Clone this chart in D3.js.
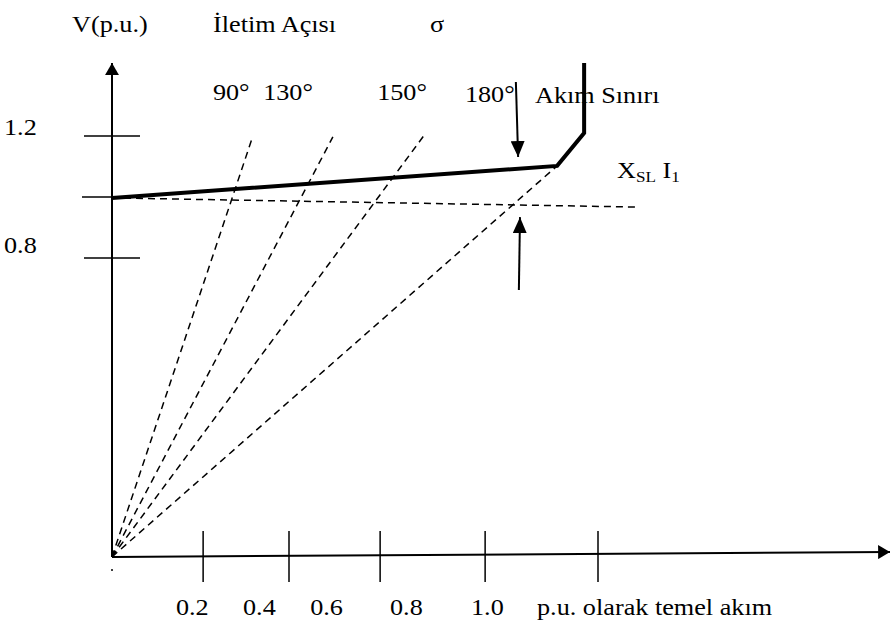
<!DOCTYPE html>
<html>
<head>
<meta charset="utf-8">
<script src="https://cdn.jsdelivr.net/npm/d3@7"></script>
<style>
    body { margin: 0; background: #fff; }
    text { font-family: "Liberation Serif", "Times New Roman", serif; fill: #000; }
</style>
</head>
<body>
<div id="chart"></div>
<script>
// values (current and voltage in p.u.)
var originV = -0.18;
var axisEndI = 2.075;
var axisEndV = -0.164;
var axisTopV = 1.439;

var xTickValues = [0.243, 0.472, 0.715, 0.995, 1.296];
var xTickLabels = ["0.2", "0.4", "0.6", "0.8", "1.0"];
var xLabelAt = [0.213, 0.392, 0.571, 0.784, 1.0];

var yTickValues = [1.2, 1.0, 0.8];
var yTickLabels = ["1.2", "", "0.8"];

// transmission angle lines (from origin)
var angleLabels = ["90°", "130°", "150°", "180°"];
var angleEndI = [0.373, 0.589, 0.837, 1.187];
var angleEndV = [1.190, 1.197, 1.210, 1.102];
var angleLabelI = [0.269, 0.403, 0.707, 0.941];

// voltage with current limit (thick line)
var limitI = [0, 1.187, 1.259, 1.259];
var limitV = [0.997, 1.102, 1.21, 1.439];

// no-load reference (dashed)
var refI = [0, 1.4];
var refV = [0.997, 0.967];

// X_SL I_1 arrows
var dropArrowI = [1.077, 1.083];
var dropArrowV = [1.377, 1.131];
var riseArrowI = [1.085, 1.088];
var riseArrowV = [0.695, 0.934];

function init() {
    var w = 890;
    var h = 626;

    var svg = d3.select("#chart")
        .append("svg")
        .attr("width", w)
        .attr("height", h);

    var xScale = d3.scaleLinear().domain([0, 1]).range([112, 487]);
    var yScale = d3.scaleLinear().domain([0.8, 1.2]).range([258, 136]);

    var defs = svg.append("defs");
    defs.append("marker")
        .attr("id", "head")
        .attr("markerUnits", "userSpaceOnUse")
        .attr("viewBox", "0 0 12 14")
        .attr("refX", 12).attr("refY", 7)
        .attr("markerWidth", 12).attr("markerHeight", 14)
        .attr("orient", "auto")
        .append("path").attr("d", "M0,0 L12,7 L0,14 Z").attr("fill", "#000");
    defs.append("marker")
        .attr("id", "headLong")
        .attr("markerUnits", "userSpaceOnUse")
        .attr("viewBox", "0 0 16 14")
        .attr("refX", 16).attr("refY", 7)
        .attr("markerWidth", 16).attr("markerHeight", 14)
        .attr("orient", "auto")
        .append("path").attr("d", "M0,0 L16,7 L0,14 Z").attr("fill", "#000");

    function label(x, y, str, size) {
        return svg.append("text")
            .attr("transform", "translate(" + x + "," + y + ") scale(1.14,1)")
            .attr("font-size", size || 23)
            .text(str);
    }

    // titles
    label(72, 32, "V(p.u.)");
    label(213, 32, "İletim Açısı");
    label(430, 32, "σ");

    // angle labels
    angleLabels.forEach(function(d, i) {
        label(xScale(angleLabelI[i]), i == 3 ? 102 : 100, d);
    });
    label(535, 103, "Akım Sınırı");

    // X_SL I_1
    var xsl = svg.append("text")
        .attr("transform", "translate(617,178) scale(1.14,1)")
        .attr("font-size", 23);
    xsl.append("tspan").text("X");
    xsl.append("tspan").attr("font-size", 15).attr("dy", 4).text("SL");
    xsl.append("tspan").attr("dy", -4).text(" I");
    xsl.append("tspan").attr("font-size", 15).attr("dy", 4).text("1");

    // y axis
    svg.append("line")
        .attr("x1", xScale(0)).attr("y1", yScale(originV))
        .attr("x2", xScale(0)).attr("y2", yScale(axisTopV))
        .attr("stroke", "#000").attr("stroke-width", 2)
        .attr("marker-end", "url(#head)");

    svg.selectAll(".ytick")
        .data(yTickValues)
        .enter().append("line")
        .attr("class", "ytick")
        .attr("x1", function(d, i) { return xScale(0) - (i == 1 ? 30 : 28); })
        .attr("x2", function(d, i) { return i == 1 ? xScale(0) : xScale(0) + 28; })
        .attr("y1", function(d) { return yScale(d); })
        .attr("y2", function(d) { return yScale(d); })
        .attr("stroke", "#000").attr("stroke-width", 1.5);

    yTickLabels.forEach(function(d, i) {
        if (d) label(4, yScale(yTickValues[i]) - 1 + (i == 2 ? -4 : 0), d);
    });

    // x axis
    svg.append("line")
        .attr("x1", xScale(0)).attr("y1", yScale(originV))
        .attr("x2", xScale(axisEndI)).attr("y2", yScale(axisEndV))
        .attr("stroke", "#000").attr("stroke-width", 2)
        .attr("marker-end", "url(#head)");

    svg.selectAll(".xtick")
        .data(xTickValues)
        .enter().append("line")
        .attr("class", "xtick")
        .attr("x1", function(d) { return xScale(d); })
        .attr("x2", function(d) { return xScale(d); })
        .attr("y1", 531)
        .attr("y2", 582)
        .attr("stroke", "#000").attr("stroke-width", 1.5);

    xTickLabels.forEach(function(d, i) {
        label(xScale(xLabelAt[i]) - 16, 615, d);
    });
    label(537, 615, "p.u. olarak temel akım");

    // dot under the origin
    svg.append("circle")
        .attr("cx", xScale(0)).attr("cy", yScale(-0.223))
        .attr("r", 1).attr("fill", "#000");

    // angle lines
    svg.selectAll(".angle")
        .data(angleEndI)
        .enter().append("line")
        .attr("class", "angle")
        .attr("x1", xScale(0)).attr("y1", yScale(originV))
        .attr("x2", function(d) { return xScale(d); })
        .attr("y2", function(d, i) { return yScale(angleEndV[i]); })
        .attr("stroke", "#000").attr("stroke-width", 1.5)
        .attr("stroke-dasharray", "7 5");

    var line = d3.line()
        .x(function(d) { return xScale(d[0]); })
        .y(function(d) { return yScale(d[1]); });

    // reference dashed line
    svg.append("path")
        .datum(d3.zip(refI, refV))
        .attr("d", line)
        .attr("fill", "none")
        .attr("stroke", "#000").attr("stroke-width", 1.5)
        .attr("stroke-dasharray", "7 5");

    // thick current-limit line
    svg.append("path")
        .datum(d3.zip(limitI, limitV))
        .attr("d", line)
        .attr("fill", "none")
        .attr("stroke", "#000").attr("stroke-width", 4);

    // arrows marking X_SL I_1
    [[dropArrowI, dropArrowV], [riseArrowI, riseArrowV]].forEach(function(a) {
        svg.append("line")
            .attr("x1", xScale(a[0][0])).attr("y1", yScale(a[1][0]))
            .attr("x2", xScale(a[0][1])).attr("y2", yScale(a[1][1]))
            .attr("stroke", "#000").attr("stroke-width", 2)
            .attr("marker-end", "url(#headLong)");
    });
}

window.onload = init;
</script>
</body>
</html>
